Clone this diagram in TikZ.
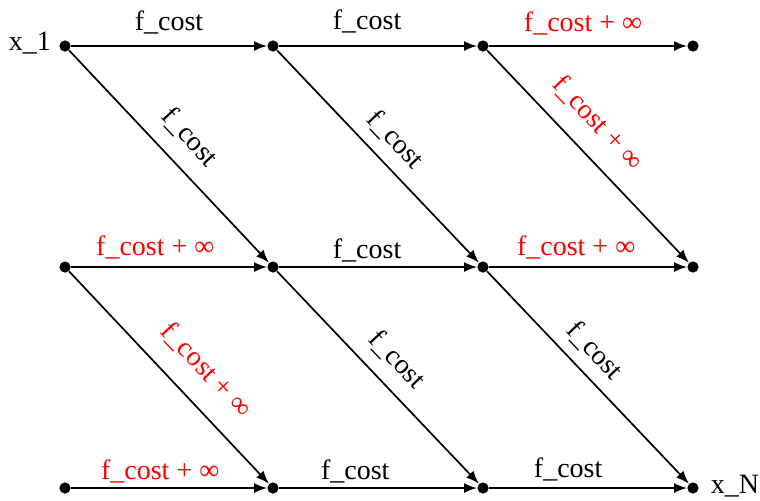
\documentclass[tikz,border=0pt]{standalone}
\usepackage{fontspec}
\setmainfont{Liberation Serif}
\usetikzlibrary{arrows.meta}
\begin{document}
\begin{tikzpicture}[x=0.5pt,y=-0.5pt,
  dot/.style={circle,fill=black,inner sep=0pt,minimum size=5.6pt},
  arr/.style={-{Latex[length=6.5pt,width=5pt]},line width=0.85pt},
  lbl/.style={font=\rmfamily\fontsize{14}{16}\selectfont,inner sep=0pt},
  rlbl/.style={lbl,text=red}]
\useasboundingbox (0,0) rectangle (760,500);
% nodes
\foreach \c/\x in {1/65,2/273,3/483,4/693}{
  \foreach \r/\y in {1/46,2/267,3/488}{
    \node[dot] (n\r\c) at (\x,\y) {};
  }
}
\node[lbl] (x1) at (30,43) {x\_1};
\node[lbl] (xN) at (735,486) {x\_N};
% row 1 horizontals
\draw[arr] (n11) -- node[lbl,pos=0.5,yshift=12pt]{f\_cost} (n12);
\draw[arr] (n12) -- node[lbl,pos=0.445,yshift=12.5pt]{f\_cost} (n13);
\draw[arr] (n13) -- node[rlbl,pos=0.475,yshift=11.5pt]{f\_cost + ∞} (n14);
% row 2 horizontals
\draw[arr] (n21) -- node[rlbl,pos=0.43,yshift=10pt]{f\_cost + ∞} (n22);
\draw[arr] (n22) -- node[lbl,pos=0.445,yshift=8.5pt]{f\_cost} (n23);
\draw[arr] (n23) -- node[rlbl,pos=0.44,yshift=10pt]{f\_cost + ∞} (n24);
% row 3 horizontals
\draw[arr] (n31) -- node[rlbl,pos=0.455,yshift=8.5pt]{f\_cost + ∞} (n32);
\draw[arr] (n32) -- node[lbl,pos=0.385,yshift=8.5pt]{f\_cost} (n33);
\draw[arr] (n33) -- node[lbl,pos=0.40,yshift=9.5pt]{f\_cost} (n34);
% diagonals row1->row2
\draw[arr] (n11) -- node[lbl,sloped,pos=0.5,yshift=14pt]{f\_cost} (n22);
\draw[arr] (n12) -- node[lbl,sloped,pos=0.5,yshift=12pt]{f\_cost} (n23);
\draw[arr] (n13) -- node[rlbl,sloped,pos=0.44,yshift=15pt]{f\_cost + ∞} (n24);
% diagonals row2->row3
\draw[arr] (n21) -- node[rlbl,sloped,pos=0.57,yshift=16pt]{f\_cost + ∞} (n32);
\draw[arr] (n22) -- node[lbl,sloped,pos=0.5,yshift=13pt]{f\_cost} (n33);
\draw[arr] (n23) -- node[lbl,sloped,pos=0.45,yshift=11.5pt]{f\_cost} (n34);
\end{tikzpicture}
\end{document}
